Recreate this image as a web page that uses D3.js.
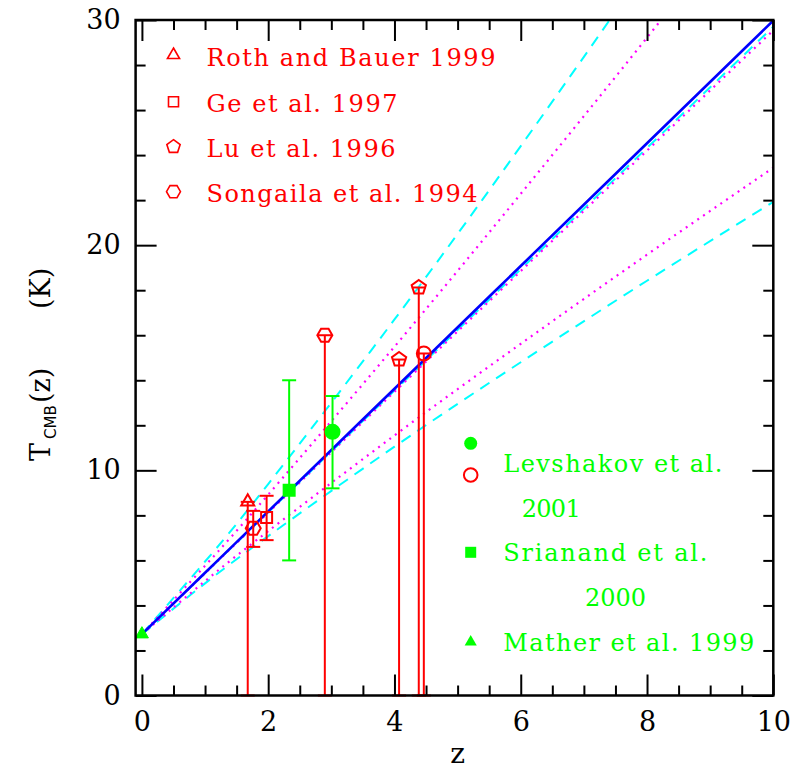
<!DOCTYPE html>
<html><head><meta charset="utf-8">
<script src="https://cdn.jsdelivr.net/npm/d3@7"></script>
<style>body{margin:0;background:#fff}</style>
</head><body>
<svg id="c" width="810" height="771"></svg>
<script>
// ---- data ----
const curveZ = [0, 1, 2, 4, 6, 8, 10];
const blueT        = [2.725, 5.45, 8.175, 13.625, 19.075, 24.525, 29.975];
const cyanUpperT   = [2.725, 5.95, 9.39, 16.70, 24.40, 32.39, 40.60];
const magUpperT    = [2.725, 5.76, 8.92, 15.49, 22.28, 29.22, 36.30];
const cyanMidT     = [2.725, 5.44, 8.14, 13.54, 18.93, 24.32, 29.70];
const magMidT      = [2.725, 5.43, 8.12, 13.49, 18.85, 24.20, 29.54];
const magLowerT    = [2.725, 5.08, 7.30, 11.55, 15.62, 19.58, 23.44];
const cyanLowerT   = [2.725, 4.98, 7.08, 11.05, 14.80, 18.42, 21.92];

// red upper limits (bar from 0 to value)
const rothZ = [1.676], rothT = [8.6];
const luZ = [4.073, 4.385], luT = [14.92, 18.12];
const songLimZ = [2.897], songLimT = [16.0];
const levLimZ = [4.465], levLimT = [15.19];
// red measurements with two-sided errors
const songZ = [1.763], songT = [7.43], songLo = [6.6], songHi = [8.2];
const geZ = [1.975], geT = [7.9], geLo = [6.9], geHi = [8.87];
// green measurements
const sriZ = [2.332], sriT = [9.12], sriLo = [6.0], sriHi = [14.0];
const levZ = [3.019], levT = [11.71], levLo = [9.2], levHi = [13.3];
const matherZ = [0], matherT = [2.725];

const xMajor = [0, 2, 4, 6, 8, 10];
const yMajor = [0, 10, 20, 30];
const topLegend = ["Roth and Bauer 1999", "Ge et al. 1997", "Lu et al. 1996", "Songaila et al. 1994"];
const botLegend = ["Levshakov et al.", "2001", "Srianand et al.", "2000", "Mather et al. 1999"];

// ---- setup ----
const svg = d3.select("#c");
const L = 135.6, R = 773.3, T0 = 20, B = 695.5;
const x = d3.scaleLinear().domain([-0.1, 10]).range([L, R]);
const y = d3.scaleLinear().domain([0, 30]).range([B, T0]);
const RED = "#ff0000", GREEN = "#00ff00", CYAN = "#00ffff", MAG = "#ff00ff", BLUE = "#0000ff";
const SERIF = "'DejaVu Serif', 'Liberation Serif', serif";

svg.append("defs").append("clipPath").attr("id", "clip")
  .append("rect").attr("x", L).attr("y", T0).attr("width", R - L).attr("height", B - T0);

// ---- model curves ----
const gLines = svg.append("g").attr("clip-path", "url(#clip)");
const line = d3.line().x(d => x(d[0])).y(d => y(d[1])).curve(d3.curveNatural);
function curve(vals, color, dash, w) {
  gLines.append("path").datum(curveZ.map((z, i) => [z, vals[i]]))
    .attr("d", line).attr("fill", "none").attr("stroke", color)
    .attr("stroke-width", w).attr("stroke-dasharray", dash);
}
curve(cyanUpperT, CYAN, "11,8", 2);
curve(cyanMidT, CYAN, "11,8", 2);
curve(cyanLowerT, CYAN, "11,8", 2);
curve(magUpperT, MAG, "2,5", 2.2);
curve(magMidT, MAG, "2,5", 2.2);
curve(magLowerT, MAG, "2,5", 2.2);
curve(blueT, BLUE, null, 2.6);

// ---- marker shapes ----
function poly(n, r, rot) {
  const pts = d3.range(n).map(i => {
    const a = rot + i * 2 * Math.PI / n;
    return [r * Math.cos(a), r * Math.sin(a)];
  });
  return "M" + pts.map(p => p.join(",")).join("L") + "Z";
}
const shapes = {
  triangle: poly(3, 7.5, -Math.PI / 2),
  square: "M-5.5,-5.5H5.5V5.5H-5.5Z",
  pentagon: poly(5, 7.5, -Math.PI / 2),
  hexagon: poly(6, 7.5, 0),
};
function marker(g, cx, cy, shape, color, filled, sw) {
  if (shape === "circle") {
    g.append("circle").attr("cx", cx).attr("cy", cy).attr("r", 7)
      .attr("fill", filled ? color : "#fff").attr("fill-opacity", filled ? 1 : 0)
      .attr("stroke", color).attr("stroke-width", sw || 2);
  } else {
    g.append("path").attr("d", shapes[shape]).attr("transform", `translate(${cx},${cy})`)
      .attr("fill", filled ? color : "none").attr("stroke", color)
      .attr("stroke-width", sw || 2).attr("stroke-linejoin", "miter");
  }
}
function errbar(g, z, lo, hi, color) {
  const cx = x(z), c = 7;
  g.append("line").attr("x1", cx).attr("x2", cx).attr("y1", y(lo)).attr("y2", y(hi))
    .attr("stroke", color).attr("stroke-width", 2);
  [lo, hi].forEach(v => g.append("line").attr("x1", cx - c).attr("x2", cx + c)
    .attr("y1", y(v)).attr("y2", y(v)).attr("stroke", color).attr("stroke-width", 2));
}

const gPts = svg.append("g");
rothZ.forEach((z, i) => { errbar(gPts, z, 0, rothT[i], RED); marker(gPts, x(z), y(rothT[i]), "triangle", RED, false); });
luZ.forEach((z, i) => { errbar(gPts, z, 0, luT[i], RED); marker(gPts, x(z), y(luT[i]), "pentagon", RED, false); });
songLimZ.forEach((z, i) => { errbar(gPts, z, 0, songLimT[i], RED); marker(gPts, x(z), y(songLimT[i]), "hexagon", RED, false); });
levLimZ.forEach((z, i) => { errbar(gPts, z, 0, levLimT[i], RED); marker(gPts, x(z), y(levLimT[i]), "circle", RED, false); });
songZ.forEach((z, i) => { errbar(gPts, z, songLo[i], songHi[i], RED); marker(gPts, x(z), y(songT[i]), "hexagon", RED, false); });
geZ.forEach((z, i) => { errbar(gPts, z, geLo[i], geHi[i], RED); marker(gPts, x(z), y(geT[i]), "square", RED, false); });
sriZ.forEach((z, i) => { errbar(gPts, z, sriLo[i], sriHi[i], GREEN); marker(gPts, x(z), y(sriT[i]), "square", GREEN, true); });
levZ.forEach((z, i) => { errbar(gPts, z, levLo[i], levHi[i], GREEN); marker(gPts, x(z), y(levT[i]), "circle", GREEN, true); });
matherZ.forEach((z, i) => marker(gPts, x(z), y(matherT[i]), "triangle", GREEN, true, 1));

// ---- axes / frame ----
const minorX = d3.range(0, 10.01, 0.5).filter(v => Math.abs(v - Math.round(v / 2) * 2) > 1e-6);
const minorY = d3.range(0, 30.01, 2).filter(v => v % 10 !== 0);
function styleAxis(g) {
  g.select(".domain").remove();
  g.selectAll(".tick line").attr("stroke", "#000").attr("stroke-width", 2);
  g.selectAll("text").attr("fill", "#000").style("font-family", SERIF).style("font-size", "27px");
}
svg.append("g").attr("transform", `translate(0,${B})`)
  .call(d3.axisBottom(x).tickValues(xMajor).tickSize(-21).tickPadding(16).tickFormat(d3.format("d")))
  .call(styleAxis).call(g => g.selectAll("text").attr("dy", "0.71em"));
svg.append("g").attr("transform", `translate(0,${B})`)
  .call(d3.axisBottom(x).tickValues(minorX).tickSize(-10).tickFormat("")).call(styleAxis);
svg.append("g").attr("transform", `translate(0,${T0})`)
  .call(d3.axisTop(x).tickValues(xMajor).tickSize(-21).tickFormat("")).call(styleAxis);
svg.append("g").attr("transform", `translate(0,${T0})`)
  .call(d3.axisTop(x).tickValues(minorX).tickSize(-10).tickFormat("")).call(styleAxis);
svg.append("g").attr("transform", `translate(${L},0)`)
  .call(d3.axisLeft(y).tickValues(yMajor).tickSize(-21).tickPadding(15).tickFormat(d3.format("d")))
  .call(styleAxis);
svg.append("g").attr("transform", `translate(${L},0)`)
  .call(d3.axisLeft(y).tickValues(minorY).tickSize(-10).tickFormat("")).call(styleAxis);
svg.append("g").attr("transform", `translate(${R},0)`)
  .call(d3.axisRight(y).tickValues(yMajor).tickSize(-21).tickFormat("")).call(styleAxis);
svg.append("g").attr("transform", `translate(${R},0)`)
  .call(d3.axisRight(y).tickValues(minorY).tickSize(-10).tickFormat("")).call(styleAxis);
svg.append("rect").attr("x", L).attr("y", T0).attr("width", R - L).attr("height", B - T0)
  .attr("fill", "none").attr("stroke", "#000").attr("stroke-width", 2.5);

// axis titles
svg.append("text").attr("x", (x(0) + x(10)) / 2).attr("y", 763).attr("text-anchor", "middle")
  .style("font-family", SERIF).style("font-size", "28px").text("z");
const yt = svg.append("text").attr("transform", "translate(50,461) rotate(-90)")
  .attr("text-anchor", "start").style("font-family", SERIF).style("font-size", "27px");
yt.append("tspan").attr("x", 0).text("T");
yt.append("tspan").attr("x", 22).attr("dy", 6).style("font-family", "'DejaVu Sans', sans-serif")
  .style("font-size", "15px").attr("textLength", 34).attr("lengthAdjust", "spacingAndGlyphs").text("CMB");
yt.append("tspan").attr("x", 58).attr("dy", -6).text("(z)");
yt.append("tspan").attr("x", 152).text("(K)");

// ---- legends ----
const topShapes = ["triangle", "square", "pentagon", "hexagon"];
const topY = [55, 101.7, 146.7, 191.7];
const topLen = [289, 191, 189, 271];
topLegend.forEach((t, i) => {
  const s = topShapes[i];
  svg.append("path").attr("d", s === "square" ? "M-5,-5H5V5H-5Z" : poly(s === "triangle" ? 3 : s === "pentagon" ? 5 : 6, 7, s === "hexagon" ? 0 : -Math.PI / 2))
    .attr("transform", `translate(173.5,${topY[i]})`).attr("fill", "none").attr("stroke", RED).attr("stroke-width", 1.6);
  svg.append("text").attr("x", 206.5).attr("y", topY[i] + 10.7)
    .attr("textLength", topLen[i]).attr("lengthAdjust", "spacing")
    .style("font-family", SERIF).style("font-size", "24px").attr("fill", RED).text(t);
});
svg.append("circle").attr("cx", 470.7).attr("cy", 443.3).attr("r", 6.5).attr("fill", GREEN);
svg.append("circle").attr("cx", 470.7).attr("cy", 475).attr("r", 6.8).attr("fill", "none").attr("stroke", RED).attr("stroke-width", 2);
svg.append("rect").attr("x", 465.2).attr("y", 546.8).attr("width", 11).attr("height", 11).attr("fill", GREEN);
svg.append("path").attr("d", poly(3, 7, -Math.PI / 2)).attr("transform", "translate(470.7,642)").attr("fill", GREEN);
const botX = [503.3, 521.7, 503.3, 585, 503.3];
const botY = [471.7, 516.7, 560.7, 605.7, 651];
const botLen = [219, 59, 204, 61, 251];
botLegend.forEach((t, i) => {
  svg.append("text").attr("x", botX[i]).attr("y", botY[i])
    .attr("textLength", botLen[i]).attr("lengthAdjust", "spacing")
    .style("font-family", SERIF).style("font-size", "24px").attr("fill", GREEN).text(t);
});
</script>
</body></html>
